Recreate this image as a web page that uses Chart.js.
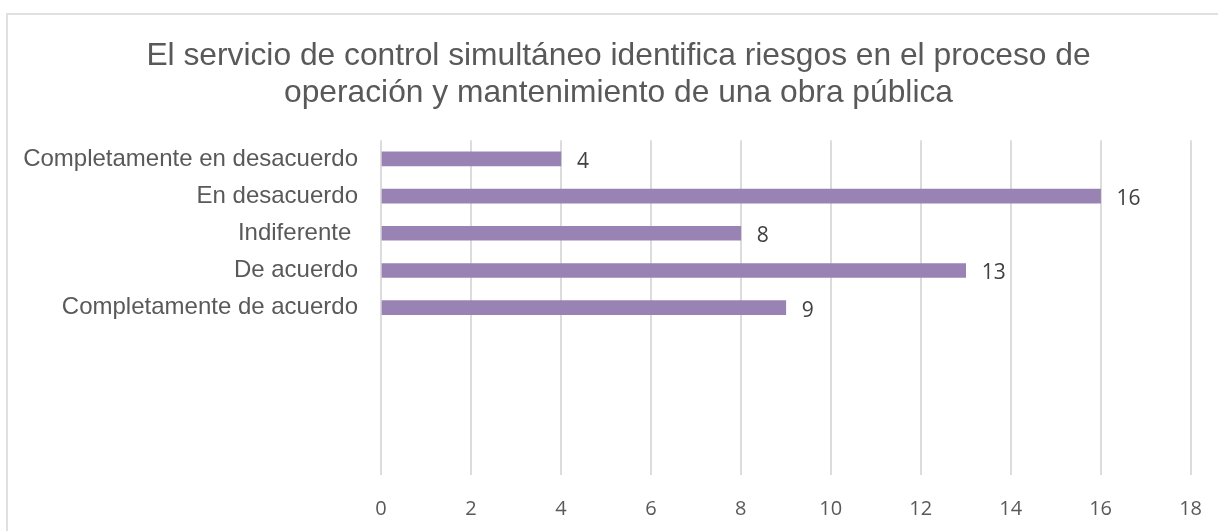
<!DOCTYPE html>
<html lang="es">
<head>
<meta charset="utf-8">
<title>Control simultáneo - riesgos</title>
<script src="https://cdn.jsdelivr.net/npm/chart.js@4.4.1/dist/chart.umd.min.js"></script>
<style>
    html, body {
        margin: 0;
        padding: 0;
        background: #ffffff;
        overflow: hidden;
    }
    .frame {
        position: absolute;
        left: 6px;
        top: 13px;
        width: 1300px;
        height: 600px;
        border: 2px solid #e0e0e0;
        box-sizing: border-box;
    }
    /* a bit wider than the window: the frame runs off the right edge */
    .chart-box {
        position: absolute;
        left: 0;
        top: 0;
        width: 1224px;
        height: 531px;
    }
</style>
</head>
<body>
<div class="frame"></div>
<div class="chart-box">
    <canvas id="surveyChart"></canvas>
</div>
<script>
// Survey answers (blank rows at the bottom are kept as empty categories)
const categories = [
    'Completamente en desacuerdo',
    'En desacuerdo',
    'Indiferente ',
    'De acuerdo',
    'Completamente de acuerdo',
    '', '', '', ''
];
const counts = [4, 16, 8, 13, 9, null, null, null, null];
const xTickValues = [0, 2, 4, 6, 8, 10, 12, 14, 16, 18];

const titleLines = [
    'El servicio de control simultáneo identifica riesgos en el proceso de',
    'operación y mantenimiento de una obra pública'
];

const textGray = '#595959';

// Writes each bar's value just past its end
const valueLabels = {
    id: 'valueLabels',
    afterDatasetsDraw(chart) {
        const ctx = chart.ctx;
        const meta = chart.getDatasetMeta(0);
        ctx.save();
        ctx.font = '21px "Open Sans", sans-serif';
        ctx.fillStyle = '#404040';
        ctx.textAlign = 'left';
        ctx.textBaseline = 'middle';
        meta.data.forEach((bar, i) => {
            const value = counts[i];
            if (value === null || value === undefined) return;
            ctx.fillText(String(value), bar.x + 16, bar.y + 3);
        });
        ctx.restore();
    }
};

const ctx = document.getElementById('surveyChart').getContext('2d');
const surveyChart = new Chart(ctx, {
    type: 'bar',
    data: {
        labels: categories,
        datasets: [{
            data: counts,
            backgroundColor: '#9983b4',
            borderWidth: 0,
            barThickness: 14
        }]
    },
    options: {
        indexAxis: 'y',
        responsive: true,
        maintainAspectRatio: false,
        animation: false,
        layout: {
            padding: { left: 13, right: 0, top: 0, bottom: 0 }
        },
        scales: {
            x: {
                min: 0,
                max: 18,
                afterBuildTicks(axis) {
                    axis.ticks = xTickValues.map(v => ({ value: v }));
                },
                afterFit(axis) {
                    axis.height = 56;
                },
                grid: {
                    color: '#dcdcdc',
                    lineWidth: 2,
                    drawTicks: false
                },
                border: { display: false },
                ticks: {
                    padding: 22,
                    color: textGray,
                    font: { family: '"Open Sans", sans-serif', size: 20 }
                }
            },
            y: {
                afterFit(axis) {
                    axis.width = 368;
                },
                grid: { display: false, drawTicks: false },
                border: { display: false },
                ticks: {
                    padding: 23,
                    color: textGray,
                    autoSkip: false,
                    font: { family: '"Liberation Sans", Arial, sans-serif', size: 24 }
                }
            }
        },
        plugins: {
            legend: { display: false },
            tooltip: { enabled: false },
            title: {
                display: true,
                text: titleLines,
                color: textGray,
                font: {
                    family: '"Liberation Sans", Arial, sans-serif',
                    size: 31.75,
                    weight: 'normal',
                    lineHeight: 1.17
                },
                padding: { top: 37.5, bottom: 28.5 }
            }
        }
    },
    plugins: [valueLabels]
});
</script>
</body>
</html>
